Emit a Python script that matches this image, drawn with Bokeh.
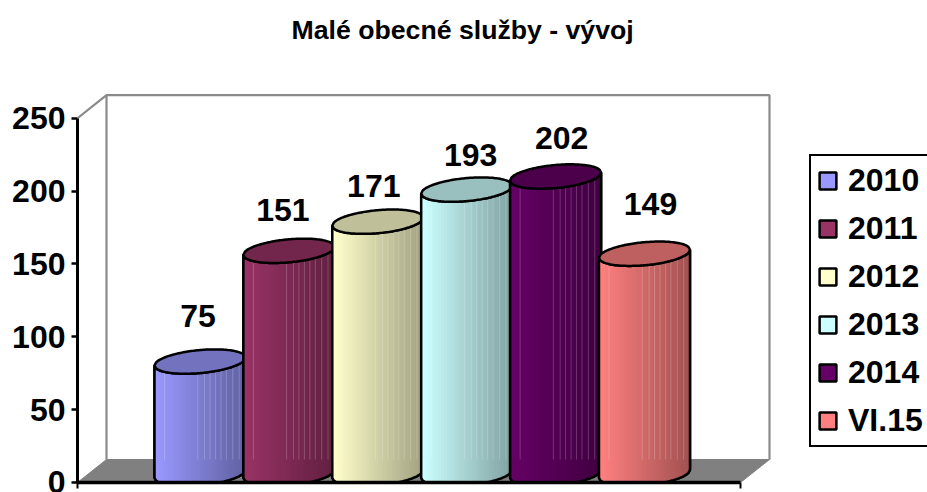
import numpy as np
from bokeh.plotting import figure
from bokeh.models import Legend, LegendItem, Range1d, FixedTicker, Title
from bokeh.core.properties import value as fixed
from bokeh.embed import file_html
from bokeh.resources import INLINE

# ---- data ----
categories = ["2010", "2011", "2012", "2013", "2014", "VI.15"]
values = [75, 151, 171, 193, 202, 149]
tick_values = [0, 50, 100, 150, 200, 250]
chart_title = "Malé obecné služby - vývoj"

# ---- styles ----
colors = ["#9999FF", "#993366", "#FFFFCC", "#CCFFFF", "#660066", "#FF8080"]
FONT = "Liberation Sans"
W, H = 927, 492
LEFT, TOP, BOTTOM = 77, 56, 10
SX, SY = 88.9, 1.4572            # px per category, px per unit
X0 = (199.5 - 77) / SX           # first cylinder centre, in axis units from frame-left
DX, DY = 29 / SX, 23 / SY        # 3-D depth of the box
R = 45.5 / SX                    # cylinder radius
BASE = 6.0                       # cylinder centre sits this far behind the front edge
LIFT = 8.0                       # top ellipse centre above the value, from the axis zero
TILT = 4.0 / SY                  # rise of ellipse from centre to right end
MINOR = 11.5 / SY                # half height of the ellipse
FLOOR_W = (740 - 77) / SX
label_dx = [-2, -6, -4, 4, 6, 6]      # px shift of value labels
label_dy = [57, 52, 47, 46, 50, 61]   # px lift of value labels

p = figure(width=W, height=H, output_backend="svg", toolbar_location=None,
           min_border_left=LEFT, min_border_right=0, min_border_top=TOP,
           min_border_bottom=BOTTOM, outline_line_color=None,
           x_range=Range1d(0, (W - LEFT) / SX),
           y_range=Range1d(0, (H - TOP - BOTTOM) / SY),
           background_fill_color="white", border_fill_color="white")
p.grid.visible = False

t = Title(text=chart_title, align="left", offset=214, standoff=24,
          text_font=FONT, text_font_size="26.67px", text_font_style="bold", text_color="black")
p.add_layout(t, "above")

# box: floor and back wall
p.patch([0, DX, DX + FLOOR_W, FLOOR_W], [0, DY, DY, 0], fill_color="#808080", line_color="#808080")
p.line([0, DX, DX + FLOOR_W, DX + FLOOR_W], [250, 250 + DY, 250 + DY, DY], line_color="#8A8A8A", line_width=2.2)
p.line([DX, DX], [DY, 250 + DY], line_color="#8A8A8A", line_width=2.2)


def shade(hex_color, f):
    r, g, b = [int(hex_color[i:i + 2], 16) for i in (1, 3, 5)]
    return "#%02x%02x%02x" % (int(r * f), int(g * f), int(b * f))


def arc(cx, cy, xs, sign):
    u = (xs - cx) / R
    return cy + TILT * u + sign * MINOR * np.sqrt(np.clip(1 - u * u, 0, 1))


items = []
n_strips = 32
for i, (cat, v, col) in enumerate(zip(categories, values, colors)):
    cx = X0 + i
    ytop = v + LIFT
    xs = np.linspace(cx - R, cx + R, 61)
    low_top = arc(cx, ytop, xs, -1)
    low_base = arc(cx, BASE, xs, -1)
    # silhouette of the body
    px = np.concatenate([xs, xs[::-1]])
    py = np.concatenate([low_top, low_base[::-1]])
    body = p.patch(px, py, fill_color=col, line_color="black", line_width=2.5)
    items.append(LegendItem(label=cat, renderers=[body]))
    # side shading
    edges = np.linspace(cx - R, cx + R, n_strips + 1)
    sxs, sys, cols = [], [], []
    for k in range(n_strips):
        a, b = edges[k], edges[min(k + 2, n_strips)]
        seg = np.linspace(a, b, 5)
        sxs.append(np.concatenate([seg, seg[::-1]]).tolist())
        sys.append(np.concatenate([arc(cx, ytop, seg, -1), arc(cx, BASE, seg[::-1], -1)]).tolist())
        cols.append(shade(col, 1.0 - 0.36 * k / (n_strips - 1)))
    p.patches(sxs, sys, fill_color=cols, line_color=None)
    # pale streaks
    streak_x = cx + R * np.array([-0.78, -0.05, 0.1, 0.22, 0.34, 0.46, 0.58, 0.72, 0.86])
    p.multi_line([[x, x] for x in streak_x],
                 [[arc(cx, ytop, np.array([x]), -1)[0], DY] for x in streak_x],
                 line_color="white", line_alpha=0.2, line_width=1)
    # outline
    p.patch(px, py, fill_color=None, line_color="black", line_width=2.5)
    # top ellipse
    up = arc(cx, ytop, xs, 1)
    p.patch(np.concatenate([xs, xs[::-1]]), np.concatenate([up, low_top[::-1]]),
            fill_color=shade(col, 0.75), line_color="black", line_width=2.5)

# value labels
p.text([X0 + i + label_dx[i] / SX for i in range(len(values))],
       [values[i] + label_dy[i] / SY for i in range(len(values))],
       text=[str(v) for v in values], text_font=fixed(FONT), text_font_size="32px",
       text_font_style="bold", text_color="black", text_align="center", text_baseline="middle")

# axes
ya = p.yaxis[0]
ya.bounds = (0, 250)
ya.ticker = FixedTicker(ticks=tick_values)
ya.major_tick_out = 6
ya.major_tick_in = 0
ya.minor_tick_line_color = None
ya.major_tick_line_width = 2.5
ya.major_tick_line_color = "black"
ya.axis_line_width = 3
ya.axis_line_color = "black"
ya.major_label_text_font = FONT
ya.major_label_text_font_size = "32px"
ya.major_label_text_font_style = "bold"
ya.major_label_text_color = "black"
ya.major_label_standoff = 6

xa = p.xaxis[0]
xa.bounds = (0, FLOOR_W)
xa.ticker = FixedTicker(ticks=[0, FLOOR_W])
xa.major_label_overrides = {0: "", FLOOR_W: ""}
xa.major_label_text_font_size = "1px"
xa.major_label_standoff = 0
xa.major_tick_out = 6
xa.major_tick_in = 0
xa.minor_tick_line_color = None
xa.major_tick_line_width = 2
xa.major_tick_line_color = "black"
xa.axis_line_width = 3.5
xa.axis_line_color = "black"

# legend
legend = Legend(items=items, location=(732, 35), orientation="vertical",
                glyph_width=21, glyph_height=21, label_standoff=10, spacing=11,
                padding=6, margin=0, label_height=34,
                label_text_font=FONT, label_text_font_size="32px", label_text_font_style="bold",
                label_text_color="black", label_text_baseline="middle",
                border_line_color="black", border_line_width=2.5, border_line_alpha=1,
                background_fill_color="white", background_fill_alpha=1)
p.add_layout(legend, "center")

open("out.html", "w").write(file_html(p, INLINE))
